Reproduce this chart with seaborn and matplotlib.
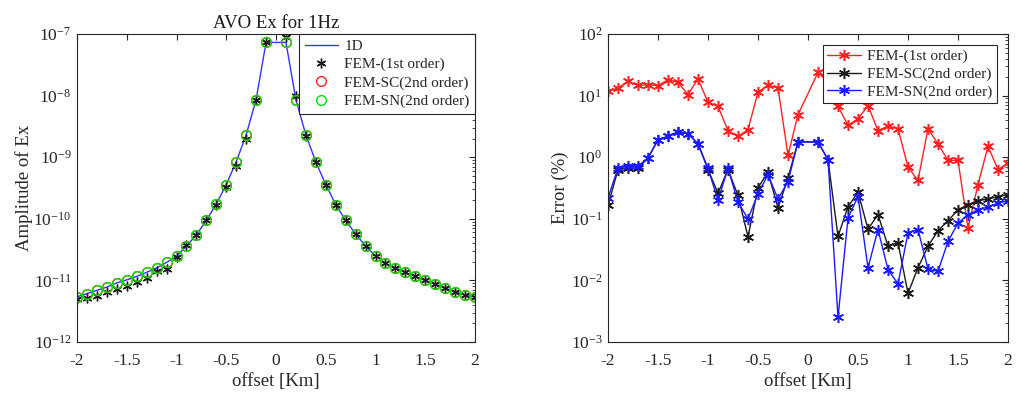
import numpy as np
import pandas as pd
import matplotlib
matplotlib.use("Agg")
import matplotlib.pyplot as plt
import seaborn as sns
from matplotlib.ticker import LogLocator, FixedLocator, NullFormatter

# ---------------- data ----------------
offsets = [-2.0, -1.9, -1.8, -1.7, -1.6, -1.5, -1.4, -1.3, -1.2, -1.1,
           -1.0, -0.9, -0.8, -0.7, -0.6, -0.5, -0.4, -0.3, -0.2, -0.1,
           0.1, 0.2, 0.3, 0.4, 0.5, 0.6, 0.7, 0.8, 0.9, 1.0,
           1.1, 1.2, 1.3, 1.4, 1.5, 1.6, 1.7, 1.8, 1.9, 2.0]

amp_1d = [5.4e-12, 6.1e-12, 6.9e-12, 7.8e-12, 9.1e-12, 1.02e-11, 1.16e-11, 1.35e-11, 1.59e-11, 1.96e-11,
          2.45e-11, 3.6e-11, 5.5e-11, 9.4e-11, 1.74e-10, 3.6e-10, 8.4e-10, 2.3e-9, 8.6e-9, 7.3e-8,
          7.3e-8, 8.6e-9, 2.3e-9, 8.4e-10, 3.6e-10, 1.7e-10, 9.4e-11, 5.7e-11, 3.6e-11, 2.5e-11,
          1.9e-11, 1.6e-11, 1.35e-11, 1.16e-11, 1.0e-11, 8.7e-12, 7.5e-12, 6.6e-12, 5.8e-12, 5.3e-12]

amp_fem1 = [4.9e-12, 5.2e-12, 5.6e-12, 6.5e-12, 7.2e-12, 8.2e-12, 9.3e-12, 1.1e-11, 1.4e-11, 1.55e-11,
            2.4e-11, 3.8e-11, 5.5e-11, 9.4e-11, 1.7e-10, 3.3e-10, 7.1e-10, 2.0e-9, 8.6e-9, 7.3e-8,
            9.0e-8, 1.0e-8, 2.2e-9, 8.3e-10, 3.5e-10, 1.7e-10, 9.4e-11, 5.7e-11, 3.6e-11, 2.5e-11,
            1.9e-11, 1.6e-11, 1.35e-11, 1.16e-11, 1.0e-11, 8.7e-12, 7.5e-12, 6.6e-12, 5.8e-12, 5.3e-12]

amp_sc = [5.4e-12, 6.1e-12, 6.9e-12, 7.8e-12, 9.1e-12, 1.02e-11, 1.16e-11, 1.35e-11, 1.59e-11, 1.96e-11,
          2.45e-11, 3.6e-11, 5.5e-11, 9.4e-11, 1.74e-10, 3.6e-10, 8.4e-10, 2.3e-9, 8.6e-9, 7.3e-8,
          7.3e-8, 8.6e-9, 2.3e-9, 8.4e-10, 3.6e-10, 1.7e-10, 9.4e-11, 5.7e-11, 3.6e-11, 2.5e-11,
          1.9e-11, 1.6e-11, 1.35e-11, 1.16e-11, 1.0e-11, 8.7e-12, 7.5e-12, 6.6e-12, 5.8e-12, 5.3e-12]

amp_sn = [5.4e-12, 6.1e-12, 6.9e-12, 7.8e-12, 9.1e-12, 1.02e-11, 1.16e-11, 1.35e-11, 1.59e-11, 1.96e-11,
          2.45e-11, 3.6e-11, 5.5e-11, 9.4e-11, 1.74e-10, 3.6e-10, 8.4e-10, 2.3e-9, 8.6e-9, 7.3e-8,
          7.3e-8, 8.6e-9, 2.3e-9, 8.4e-10, 3.6e-10, 1.7e-10, 9.4e-11, 5.7e-11, 3.6e-11, 2.5e-11,
          1.9e-11, 1.6e-11, 1.35e-11, 1.16e-11, 1.0e-11, 8.7e-12, 7.5e-12, 6.6e-12, 5.8e-12, 5.3e-12]

err_fem1 = [11.7, 13.3, 17.0, 14.7, 15.0, 14.5, 18.1, 16.4, 10.4, 18.6,
            7.8, 6.7, 2.7, 2.18, 2.8, 11.4, 14.7, 13.3, 1.07, 4.9,
            23.8, 16.5, 6.7, 3.3, 4.2, 6.9, 2.7, 3.2, 2.9, 0.69,
            0.42, 2.9, 1.64, 0.89, 0.89, 0.071, 0.36, 1.5, 0.63, 0.80]

err_sc = [0.165, 0.63, 0.67, 0.67, 0.97, 1.92, 2.18, 2.57, 2.40, 1.66,
          0.63, 0.26, 0.63, 0.24, 0.051, 0.32, 0.57, 0.15, 0.46, 1.77,
          1.77, 0.91, 0.052, 0.156, 0.27, 0.068, 0.117, 0.036, 0.041, 0.0062,
          0.016, 0.036, 0.064, 0.093, 0.14, 0.17, 0.197, 0.21, 0.23, 0.246]

err_sn = [0.218, 0.67, 0.71, 0.72, 0.97, 1.92, 2.18, 2.57, 2.40, 1.66,
          0.66, 0.20, 0.66, 0.185, 0.10, 0.255, 0.52, 0.21, 0.40, 1.77,
          1.77, 0.91, 0.0025, 0.103, 0.23, 0.016, 0.067, 0.015, 0.0088, 0.059,
          0.067, 0.0153, 0.014, 0.043, 0.085, 0.117, 0.14, 0.156, 0.18, 0.197]

x_ticks = [-2, -1.5, -1, -0.5, 0, 0.5, 1, 1.5, 2]
x_tick_labels = ["-2", "-1.5", "-1", "-0.5", "0", "0.5", "1", "1.5", "2"]

# ---------------- style ----------------
sns.set_theme(style="white")
plt.rcParams['font.family'] = ['Liberation Serif', 'DejaVu Serif']
plt.rcParams['mathtext.fontset'] = 'custom'
plt.rcParams['mathtext.rm'] = 'Liberation Serif'
plt.rcParams['mathtext.it'] = 'Liberation Serif:italic'
TICK_FS = 12.5
LABEL_FS = 13.5
LEG_FS = 11
AX_COLOR = '#262626'

fig = plt.figure(figsize=(10.21, 3.94), dpi=100)
W, H = 1021, 394
ax1 = fig.add_axes([77 / W, (H - 342) / H, 398 / W, 308 / H])
ax2 = fig.add_axes([608 / W, (H - 342) / H, 400 / W, 308 / H])

ast = (6, 2, 0)

df = pd.DataFrame({"offset": offsets, "amp_1d": amp_1d, "amp_fem1": amp_fem1,
                   "amp_sc": amp_sc, "amp_sn": amp_sn,
                   "err_fem1": err_fem1, "err_sc": err_sc, "err_sn": err_sn})

# left panel
sns.lineplot(data=df, x="offset", y="amp_1d", ax=ax1, color='#3333ff', lw=1.0,
             sort=False, estimator=None, label="1D")
sns.lineplot(data=df, x="offset", y="amp_fem1", ax=ax1, color='k', linestyle='',
             marker=ast, markersize=7, markeredgecolor='k', markeredgewidth=1.0,
             sort=False, estimator=None, label="FEM-(1st order)")
sns.lineplot(data=df, x="offset", y="amp_sc", ax=ax1, color='r', linestyle='',
             marker='o', markersize=7, markerfacecolor='none', markeredgecolor='#ff2020',
             markeredgewidth=1.0, sort=False, estimator=None, label="FEM-SC(2nd order)")
sns.lineplot(data=df, x="offset", y="amp_sn", ax=ax1, color='#00dd00', linestyle='',
             marker='o', markersize=7, markerfacecolor='none', markeredgecolor='#00e000',
             markeredgewidth=1.0, sort=False, estimator=None, label="FEM-SN(2nd order)")

# right panel
sns.lineplot(data=df, x="offset", y="err_fem1", ax=ax2, color='#ff2020', lw=1.0,
             marker=ast, markersize=8, markeredgecolor='#ff2020', markeredgewidth=1.1,
             sort=False, estimator=None, label="FEM-(1st order)")
sns.lineplot(data=df, x="offset", y="err_sc", ax=ax2, color='k', lw=1.0,
             marker=ast, markersize=8, markeredgecolor='k', markeredgewidth=1.1,
             sort=False, estimator=None, label="FEM-SC(2nd order)")
sns.lineplot(data=df, x="offset", y="err_sn", ax=ax2, color='#1a1aff', lw=1.0,
             marker=ast, markersize=8, markeredgecolor='#1a1aff', markeredgewidth=1.1,
             sort=False, estimator=None, label="FEM-SN(2nd order)")

for ax, ylim in ((ax1, (1e-12, 1e-7)), (ax2, (1e-3, 1e2))):
    ax.set_yscale('log')
    ax.set_xlim(-2, 2)
    ax.set_ylim(*ylim)
    ax.xaxis.set_major_locator(FixedLocator(x_ticks))
    ax.set_xticklabels(x_tick_labels)
    ax.yaxis.set_major_locator(LogLocator(base=10, numticks=20))
    ax.yaxis.set_minor_locator(LogLocator(base=10, subs=np.arange(2, 10), numticks=20))
    ax.yaxis.set_minor_formatter(NullFormatter())
    ax.tick_params(which='both', direction='in', top=True, right=True,
                   labelsize=TICK_FS, colors=AX_COLOR, labelcolor=AX_COLOR)
    ax.tick_params(which='major', length=4, width=0.8)
    ax.tick_params(which='minor', length=2.2, width=0.6)
    ax.tick_params(axis='x', pad=8)
    ax.tick_params(axis='y', pad=4)
    for s in ax.spines.values():
        s.set_color(AX_COLOR)
        s.set_linewidth(0.8)
    ax.set_xlabel("offset [Km]", fontsize=LABEL_FS, color=AX_COLOR, labelpad=3)

ax1.set_ylabel("Amplitude of Ex", fontsize=LABEL_FS, color=AX_COLOR, labelpad=0)
ax1.set_title("AVO Ex for 1Hz", fontsize=LABEL_FS, color='k', pad=4)
ax2.set_ylabel("Error (%)", fontsize=LABEL_FS, color=AX_COLOR, labelpad=1)

leg1 = ax1.legend(loc='upper right', borderaxespad=0, fontsize=LEG_FS, frameon=True,
                  fancybox=False, edgecolor=AX_COLOR, framealpha=1,
                  handlelength=2.2, handletextpad=0.4, labelspacing=0.3, borderpad=0.35)
leg1.get_frame().set_linewidth(0.8)
leg2 = ax2.legend(loc='upper right', bbox_to_anchor=((997 - 608) / 400, (342 - 45) / 308),
                  borderaxespad=0, fontsize=LEG_FS, frameon=True,
                  fancybox=False, edgecolor=AX_COLOR, framealpha=1,
                  handlelength=2.2, handletextpad=0.4, labelspacing=0.25, borderpad=0.3)
leg2.get_frame().set_linewidth(0.8)

fig.savefig("out.png", dpi=100)
